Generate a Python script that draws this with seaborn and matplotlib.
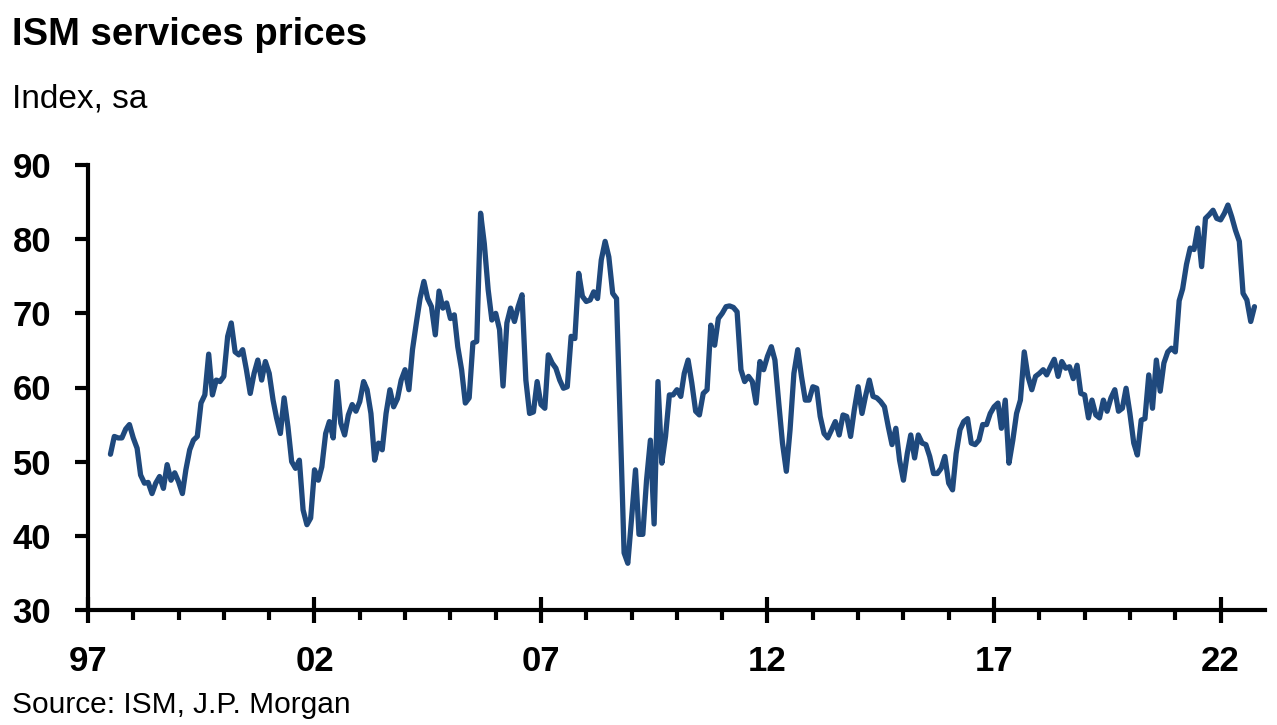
import matplotlib
matplotlib.use('Agg')
import matplotlib.pyplot as plt
import matplotlib.dates as mdates
import seaborn as sns
import pandas as pd


# ISM services prices index, monthly from Jul 1997
prices_97_01 = [
    51.0, 53.4, 53.2, 53.2, 54.4, 55.0,
    53.2, 51.8, 48.2, 47.1, 47.2, 45.7, 47.1, 48.0, 46.4, 49.6, 47.5, 48.5,
    47.3, 45.7, 48.9, 51.6, 52.9, 53.4, 57.9, 59.0, 64.5, 59.0, 61.0, 60.8,
    61.5, 66.9, 68.7, 64.8, 64.4, 65.1, 62.4, 59.2, 61.9, 63.7, 61.0, 63.5,
    61.9, 58.3, 55.9, 53.8, 58.6, 54.7, 50.0, 49.1, 50.2, 43.5, 41.5, 42.4,
]
prices_02_06 = [
    48.9, 47.5, 49.3, 53.8, 55.4, 53.2, 60.8, 55.2, 53.6, 56.3, 57.7, 56.8,
    58.1, 60.8, 59.7, 56.5, 50.2, 52.5, 51.6, 56.5, 59.7, 57.4, 58.5, 61.0,
    62.4, 59.7, 65.1, 68.7, 72.0, 74.3, 72.0, 70.9, 67.1, 73.0, 70.7, 71.4,
    69.3, 69.8, 65.5, 62.4, 57.9, 58.6, 66.0, 66.2, 83.5, 79.4, 73.2, 69.1,
    70.0, 67.8, 60.2, 68.7, 70.7, 68.9, 70.9, 72.5, 61.0, 56.5, 56.7, 60.8,
]
prices_07_11 = [
    57.7, 57.2, 64.4, 63.3, 62.6, 61.0, 59.9, 60.1, 66.9, 66.6, 75.4, 72.3,
    71.6, 71.8, 72.9, 72.0, 77.2, 79.7, 77.6, 72.7, 72.0, 55.0, 37.7, 36.3,
    42.5, 48.9, 40.2, 40.2, 47.5, 52.9, 41.6, 60.8, 49.8, 53.4, 59.0, 59.0,
    59.7, 58.8, 61.9, 63.7, 60.6, 56.8, 56.3, 59.2, 59.7, 68.4, 65.7, 69.3,
    70.0, 70.9, 71.0, 70.8, 70.2, 62.4, 60.8, 61.5, 60.8, 57.9, 63.5, 62.4,
]
prices_12_16 = [
    64.2, 65.5, 63.7, 57.9, 52.5, 48.7, 54.3, 61.9, 65.1, 61.5, 58.3, 58.3,
    60.1, 59.9, 56.1, 53.8, 53.2, 54.3, 55.4, 53.6, 56.3, 56.1, 53.4, 57.0,
    60.1, 56.5, 58.8, 61.0, 58.8, 58.6, 58.1, 57.4, 54.7, 52.3, 54.5, 50.2,
    47.5, 51.1, 53.6, 50.5, 53.6, 52.5, 52.3, 50.7, 48.4, 48.4, 49.1, 50.7,
    47.1, 46.2, 51.1, 54.3, 55.4, 55.8, 52.5, 52.3, 52.9, 55.0, 55.0, 56.5,
]
prices_17_22 = [
    57.4, 57.9, 54.5, 58.3, 49.8, 52.9, 56.5, 58.3, 64.8, 61.5, 59.7, 61.5,
    61.9, 62.4, 61.7, 62.8, 63.8, 61.5, 63.5, 62.6, 62.8, 61.2, 63.0, 59.2,
    59.0, 55.9, 58.3, 56.3, 55.9, 58.3, 56.8, 58.6, 59.7, 56.8, 57.2, 59.9,
    56.5, 52.5, 50.9, 55.6, 55.8, 61.7, 57.2, 63.7, 59.5, 63.3, 64.8, 65.3,
    64.8, 71.7, 73.3, 76.6, 78.8, 78.6, 81.5, 76.3, 82.8, 83.3, 83.9, 82.8,
    82.6, 83.5, 84.6, 83.0, 81.2, 79.7, 72.7, 71.8, 68.9, 70.9,
]
start_month = '1997-07-01'
major_years = [1997, 2002, 2007, 2012, 2017, 2022]
y_ticks = [30, 40, 50, 60, 70, 80, 90]

LINE_COLOR = '#1F497D'


def build_frame() -> pd.DataFrame:
    values = prices_97_01 + prices_02_06 + prices_07_11 + prices_12_16 + prices_17_22
    dates = pd.date_range(start_month, periods=len(values), freq='MS')
    return pd.DataFrame({'date': dates, 'value': values})


def main():
    sns.set_style('white')
    plt.rcParams['font.family'] = ['Liberation Sans', 'DejaVu Sans']
    plt.rcParams['text.color'] = 'black'
    plt.rcParams['xtick.color'] = 'black'
    plt.rcParams['ytick.color'] = 'black'

    df = build_frame()

    fig = plt.figure(figsize=(12.77, 7.25), dpi=100)
    W, H = 1277, 725
    ax = fig.add_axes([88 / W, 1 - 610 / H, (1265 - 88) / W, (610 - 165) / H])

    sns.lineplot(data=df, x='date', y='value', color=LINE_COLOR, lw=3.8, ax=ax)

    ax.set_xlim(pd.Timestamp('1997-01-01'), pd.Timestamp('2022-12-25'))
    ax.set_ylim(30, 90)
    ax.set_yticks(y_ticks)
    major = mdates.date2num(pd.to_datetime([f'{y}-01-01' for y in major_years]))
    minor = mdates.date2num(pd.to_datetime([f'{y}-01-01' for y in range(1997, 2023)]))
    ax.xaxis.set_major_locator(matplotlib.ticker.FixedLocator(major))
    ax.xaxis.set_minor_locator(matplotlib.ticker.FixedLocator(minor))
    ax.xaxis.set_major_formatter(mdates.DateFormatter('%y'))

    ax.set_xlabel('')
    ax.set_ylabel('')
    sns.despine(ax=ax)
    for side in ['left', 'bottom']:
        ax.spines[side].set_linewidth(3)
        ax.spines[side].set_color('black')

    ax.tick_params(axis='y', left=True, direction='out', length=9.5, width=3, pad=17,
                   labelsize=25, color='black', labelcolor='black')
    ax.tick_params(axis='x', which='major', bottom=True, direction='inout', length=19,
                   width=3, pad=16, labelsize=25, color='black', labelcolor='black')
    ax.tick_params(axis='x', which='minor', bottom=True, direction='out', length=7,
                   width=3, color='black')
    for lab in ax.get_xticklabels() + ax.get_yticklabels():
        lab.set_fontweight('bold')

    fig.text(12 / W, 1 - 45 / H, 'ISM services prices', fontsize=27.5,
             fontweight='bold', va='baseline', ha='left', color='black')
    fig.text(12 / W, 1 - 108 / H, 'Index, sa', fontsize=24,
             va='baseline', ha='left', color='black')
    fig.text(12 / W, 1 - 713 / H, 'Source: ISM, J.P. Morgan', fontsize=21.5,
             va='baseline', ha='left', color='black')

    fig.savefig('out.png', dpi=100)


if __name__ == '__main__':
    main()
